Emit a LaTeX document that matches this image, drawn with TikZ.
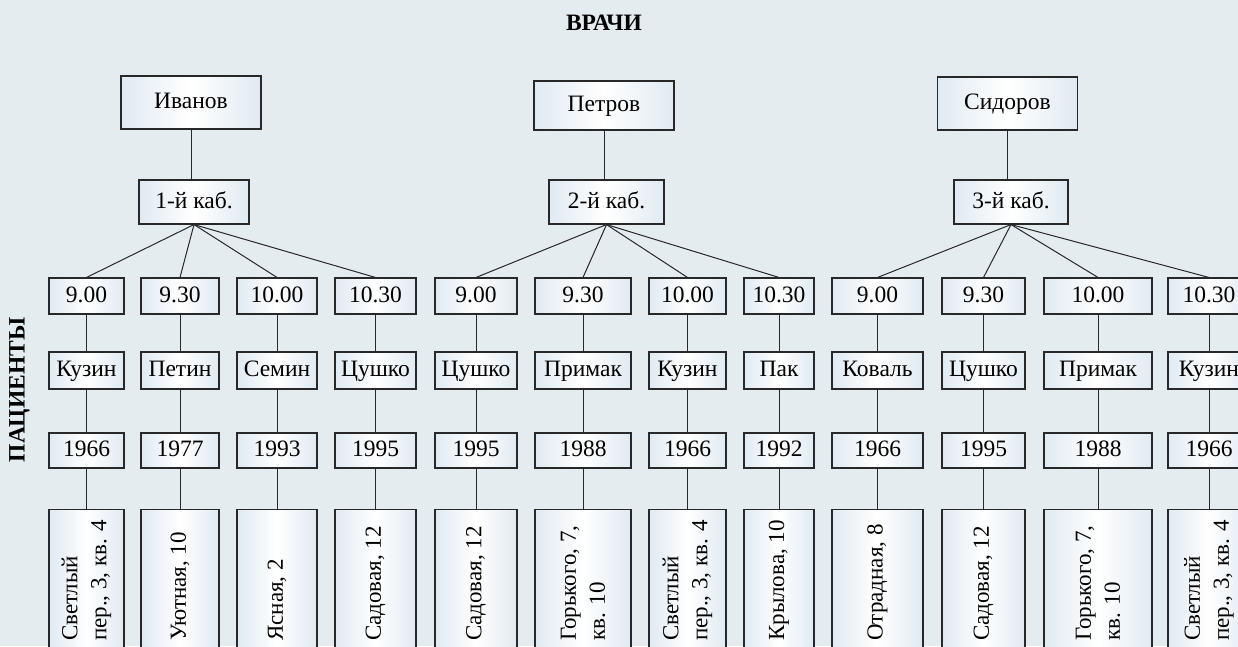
\documentclass[tikz,border=0pt]{standalone}
\usepackage{fontspec}
\setmainfont{Liberation Serif}
\usetikzlibrary{positioning}
\definecolor{bgblue}{RGB}{229,236,240}
\definecolor{boxblue}{RGB}{224,234,242}
\definecolor{linegray}{RGB}{40,40,40}
\newcommand\cellfont{\fontsize{23.5}{29}\selectfont}

\tikzset{
  cell/.style={draw=linegray, line width=1.1pt, left color=boxblue, right color=boxblue,
    middle color=white, inner sep=0pt, text height=16pt, text depth=4pt, font=\cellfont},
  link/.style={draw=linegray, line width=1pt},
}

\begin{document}
\begin{tikzpicture}[x=1pt, y=-1pt]
  \fill[bgblue] (0,0) rectangle (1238,646);
  \useasboundingbox (0,0) rectangle (1238,646);
  \clip (0,0) rectangle (1238,646);

  % headings
  \node[font=\cellfont\bfseries] (vrachi) at (604,23) {ВРАЧИ};
  \node[font=\cellfont\bfseries, rotate=90] (pacienty) at (19.5,390) {ПАЦИЕНТЫ};

  % doctors and rooms
  \foreach \d/\dx/\dy/\dh/\name in {1/191/102.5/53/Иванов, 2/604/105.5/49/Петров, 3/1007.5/103.5/53/Сидоров}
    \node[cell, minimum width=140, minimum height=\dh] (doc\d) at (\dx,\dy) {\name};
  \foreach \d/\dx/\bw in {1/194/110, 2/606.5/115, 3/1011/114}
    \node[cell, minimum width=\bw, minimum height=44] (cab\d) at (\dx,202) {\d-й каб.};
  \foreach \d in {1,2,3}
    \draw[link] (doc\d.south) -- (doc\d.south |- cab\d.north);

  % patients: time, name, year, address
  \foreach \i/\r/\cx/\bw/\tm/\pat/\yr/\adr in {
      1/1/86.5/75/9.00/Кузин/1966/{Светлый\\пер., 3, кв. 4},
      2/1/180/78/9.30/Петин/1977/{Уютная, 10},
      3/1/277/80/10.00/Семин/1993/{Ясная, 2},
      4/1/375.5/81/10.30/Цушко/1995/{Садовая, 12},
      5/2/476/82/9.00/Цушко/1995/{Садовая, 12},
      6/2/583/96/9.30/Примак/1988/{Горького, 7,\\кв. 10},
      7/2/687.5/77/10.00/Кузин/1966/{Светлый\\пер., 3, кв. 4},
      8/2/779/70/10.30/Пак/1992/{Крылова, 10},
      9/3/877.5/91/9.00/Коваль/1966/{Отрадная, 8},
      10/3/983.5/83/9.30/Цушко/1995/{Садовая, 12},
      11/3/1098/108/10.00/Примак/1988/{Горького, 7,\\кв. 10},
      12/3/1209/82/10.30/Кузин/1966/{Светлый\\пер., 3, кв. 4}}
  {
    \node[cell, minimum width=\bw, minimum height=36] (t\i) at (\cx,296) {\tm};
    \node[cell, minimum width=\bw, minimum height=37] (p\i) at (\cx,370.5) {\pat};
    \node[cell, minimum width=\bw, minimum height=35] (y\i) at (\cx,450.5) {\yr};
    \node[cell, minimum width=\bw, minimum height=150, anchor=north] (a\i) at (\cx,509) {};
    \node[font=\fontsize{23}{29}\selectfont, rotate=90, anchor=west, align=left, inner sep=0pt] (at\i) at (\cx,641) {\adr};
    \draw[link] (cab\r.south) -- (t\i.north);
    \draw[link] (t\i) -- (p\i) (p\i) -- (y\i) (y\i) -- (a\i);
  }
\end{tikzpicture}
\end{document}
